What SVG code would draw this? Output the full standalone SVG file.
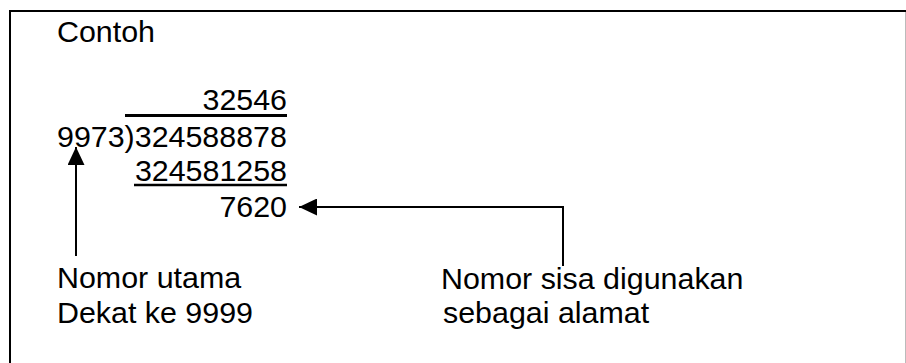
<svg xmlns="http://www.w3.org/2000/svg" width="906" height="363" viewBox="0 0 906 363">
<style>
text{font-family:"Liberation Sans",Arial,sans-serif;font-size:30.4px;fill:#000}
.r{text-anchor:end}
.ln{stroke:#000;stroke-width:2;fill:none}
</style>
<defs>
<marker id="ah" markerWidth="18" markerHeight="17" refX="18" refY="8.5" orient="auto" markerUnits="userSpaceOnUse">
<path d="M0,0 L18,8.5 L0,17 Z" fill="#000"/>
</marker>
</defs>
<rect width="906" height="363" fill="#fff"/>
<g id="frame">
<line x1="10" y1="11" x2="906" y2="11" stroke="#000" stroke-width="2"/>
<line x1="10" y1="10" x2="10" y2="363" stroke="#000" stroke-width="2"/>
<line x1="905.5" y1="12" x2="905.5" y2="363" stroke="#bbb" stroke-width="1"/>
</g>
<g id="title"><text x="57" y="42">Contoh</text></g>
<g id="division">
<text class="r" x="287" y="110">32546</text>
<line x1="125" y1="115.5" x2="287" y2="115.5" stroke="#000" stroke-width="3"/>
<text x="57" y="147">9973)324588878</text>
<text class="r" x="287" y="181">324581258</text>
<line x1="134" y1="185" x2="287" y2="185" stroke="#000" stroke-width="2.5"/>
<text class="r" x="287" y="217">7620</text>
</g>
<g id="label-left">
<text x="57" y="288">Nomor utama</text>
<text x="57" y="323">Dekat ke 9999</text>
</g>
<g id="label-right">
<text x="441" y="289">Nomor sisa digunakan</text>
<text x="443" y="323">sebagai alamat</text>
</g>
<g id="connectors">
<path class="ln" d="M76,256 L76,147" marker-end="url(#ah)"/>
<path class="ln" d="M563,266 L563,207 L299,207" marker-end="url(#ah)"/>
</g>
</svg>
